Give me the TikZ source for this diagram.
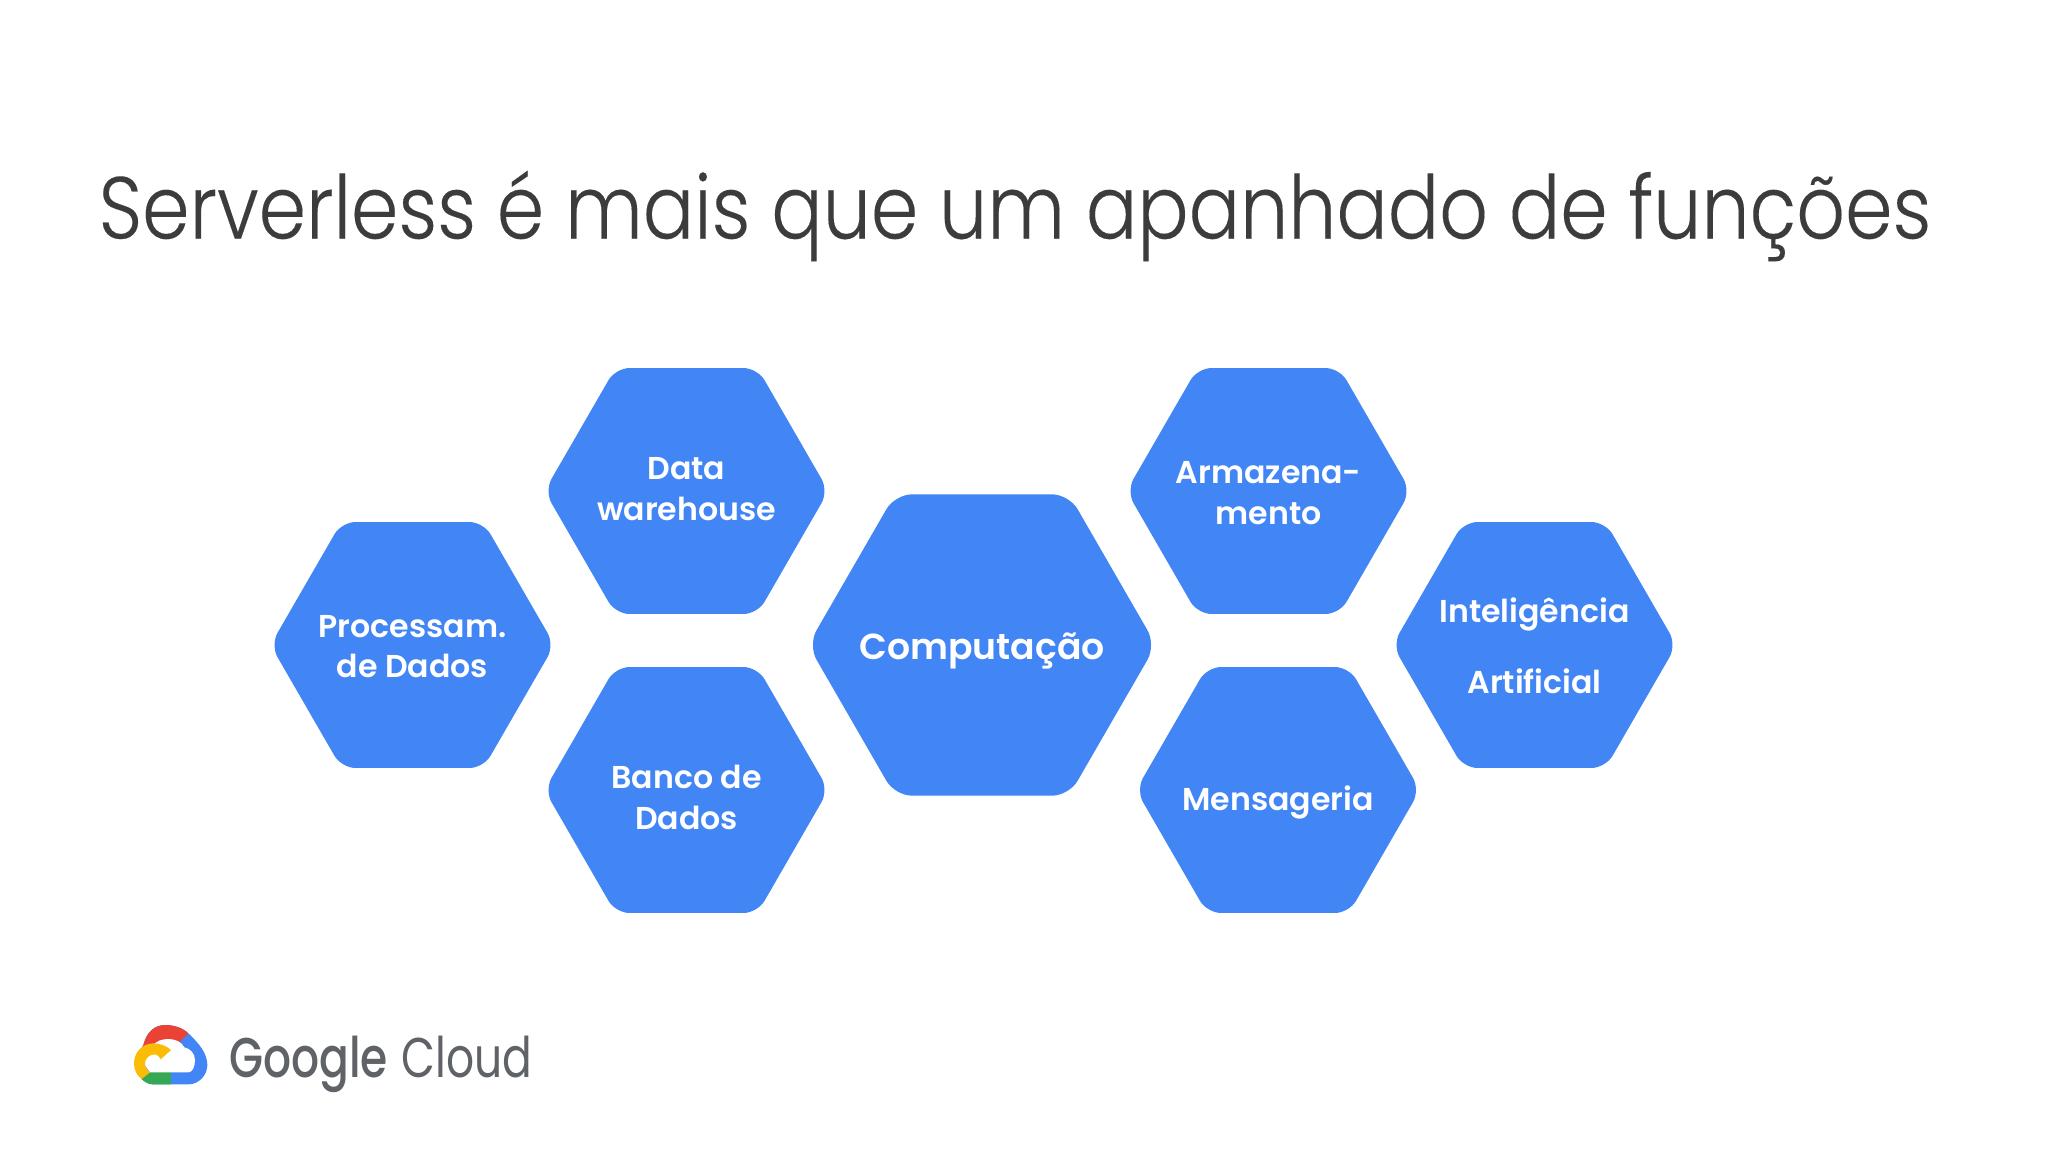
\documentclass[tikz,border=0pt]{standalone}
\usepackage{fontspec}
\usetikzlibrary{shapes.geometric}
\setmainfont{Poppins}[UprightFont=* SemiBold]
\newfontfamily\titlefont{Poppins}[UprightFont=* Light, FakeStretch=0.865, FakeBold=0.15]
\newfontfamily\logofont{Poppins}[UprightFont=* Medium, FakeStretch=0.785]
\newfontfamily\cloudfont{Poppins}[FakeStretch=0.785]
\definecolor{hexblue}{HTML}{4285F4}
\definecolor{titlegray}{HTML}{3C3C3C}
\definecolor{logogray}{HTML}{5F6368}
\definecolor{logored}{HTML}{EA4335}
\definecolor{logoyellow}{HTML}{FBBC05}
\definecolor{logogreen}{HTML}{34A853}

\tikzstyle{hexa} = [regular polygon, regular polygon sides=6, minimum size=142pt, inner sep=0pt, outer sep=0pt, rounded corners=7pt, fill=hexblue]
\tikzstyle{hexbig} = [hexa, minimum size=174pt, rounded corners=8.5pt]
\tikzstyle{hextext} = [text=white, inner sep=0pt, font=\fontsize{15.8}{20.3}\selectfont]
\tikzstyle{bigtext} = [hextext, font=\fontsize{18.1}{22}\selectfont]

\begin{document}
\begin{tikzpicture}[x=0.5pt, y=-0.5pt, align=center, node distance=0pt]

  \useasboundingbox (0,0) rectangle (2048,1152);

  \node (title) [text=titlegray, font=\titlefont\fontsize{44}{50}\selectfont] at (1015,216) {Serverless é mais que um apanhado de funções};

  % --- %

  \node (proc) [hexa] at (412.5,645) {};
  \node (data) [hexa, right of=proc, xshift=137pt, yshift=77pt] {};
  \node (banco) [hexa, right of=proc, xshift=137pt, yshift=-72.5pt] {};
  \node (comp) [hexbig, right of=proc, xshift=284.75pt] {};
  \node (armaz) [hexa, right of=comp, xshift=143.25pt, yshift=77pt] {};
  \node (mensa) [hexa, right of=comp, xshift=148pt, yshift=-72.5pt] {};
  \node (intel) [hexa, right of=comp, xshift=276.25pt] {};

  % --- %

  \node (proctext) [hextext, right of=proc, yshift=-0.7pt] {Processam.\\de Dados};
  \node (datatext) [hextext, right of=data, yshift=1pt] {Data\\warehouse};
  \node (bancotext) [hextext, right of=banco, yshift=-3.7pt] {Banco de\\Dados};
  \node (comptext) [bigtext, right of=comp, yshift=-3pt] {Computação};
  \node (armaztext) [hextext, right of=armaz, yshift=-1pt] {Armazena-\\mento};
  \node (mensatext) [hextext, right of=mensa, yshift=-6pt] {Mensageria};
  \node (inteltext) [hextext, right of=intel, yshift=-0.3pt] {Inteligência\\[15pt]Artificial};

  % --- %

  \begin{scope}[shift={(125,1015)}, x=0.1667pt, y=-0.1667pt]
    \begin{scope}
      \clip (85,208) -- (190,208) .. controls (222,208) and (247,180) .. (247,150) .. controls (247,115) and (222,85) .. (190,55) .. controls (175,40) and (150,30) .. (120,30) .. controls (90,30) and (65,50) .. (55,90) -- (27,145) -- (50,192) .. controls (60,202) and (72,208) .. (85,208) -- cycle;
      \fill [hexblue] (0,0) rectangle (260,220);
      \fill [logored] (20,10) -- (235,10) -- (165,80) -- (120,100) -- (20,120) -- cycle;
      \fill [logogreen] (20,172) -- (138,172) -- (138,215) -- (20,215) -- cycle;
    \end{scope}
    \fill [white] (75,172) -- (190,172) .. controls (202,172) and (210,155) .. (210,135) .. controls (210,115) and (195,100) .. (178,97) .. controls (170,80) and (150,72) .. (130,72) .. controls (110,72) and (95,78) .. (85,90) -- (60,120) -- (55,145) -- cycle;
    \fill [logoyellow] (107,133) -- (138,105) .. controls (125,93) and (106,85) .. (85,85) .. controls (52,85) and (27,112) .. (27,145) .. controls (27,165) and (36,182) .. (50,192) -- (75,172) .. controls (66,165) and (60,156) .. (60,145) .. controls (60,130) and (73,118) .. (90,118) .. controls (98,118) and (103,125) .. (107,133) -- cycle;
  \end{scope}

  \node (logo) [anchor=west, inner sep=0pt, text=logogray, font=\fontsize{28}{30}\selectfont] at (229,1064) {{\logofont Google} {\cloudfont Cloud}};

\end{tikzpicture}
\end{document}
